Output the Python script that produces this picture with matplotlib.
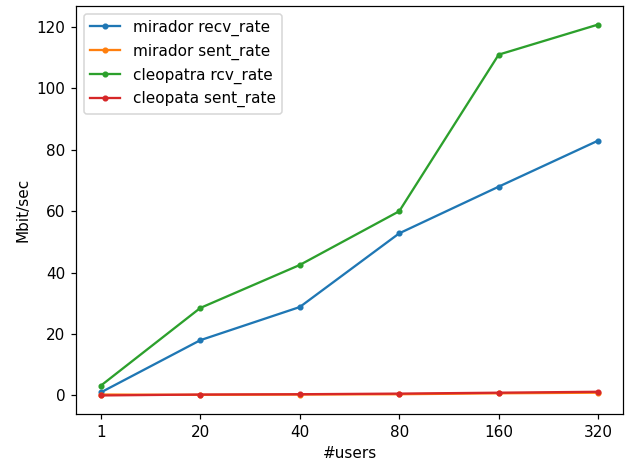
import matplotlib.pyplot as plt

users = ['1', '20', '40', '80', '160', '320']

mirador_recv = [1.0, 18.0, 28.8, 52.8, 68.0, 83.0]
mirador_sent = [0.3, 0.2, 0.3, 0.4, 0.7, 0.9]
cleopatra_rcv = [3.2, 28.5, 42.5, 60.0, 111.0, 120.8]
cleopata_sent = [0.0, 0.3, 0.4, 0.6, 0.9, 1.2]

# the reference looks like a slightly enlarged render, so use dpi 110
fig = plt.figure(figsize=(628 / 110, 468 / 110), dpi=110)
plt.subplots_adjust(left=76 / 628, right=623 / 628, bottom=1 - 414 / 468, top=1 - 6 / 468)

plt.plot(users, mirador_recv, marker='.', label='mirador recv_rate')
plt.plot(users, mirador_sent, marker='.', label='mirador sent_rate')
plt.plot(users, cleopatra_rcv, marker='.', label='cleopatra rcv_rate')
plt.plot(users, cleopata_sent, marker='.', label='cleopata sent_rate')

plt.xlabel('#users')
plt.ylabel('Mbit/sec')
plt.legend()

plt.savefig('out.png', dpi=110)
